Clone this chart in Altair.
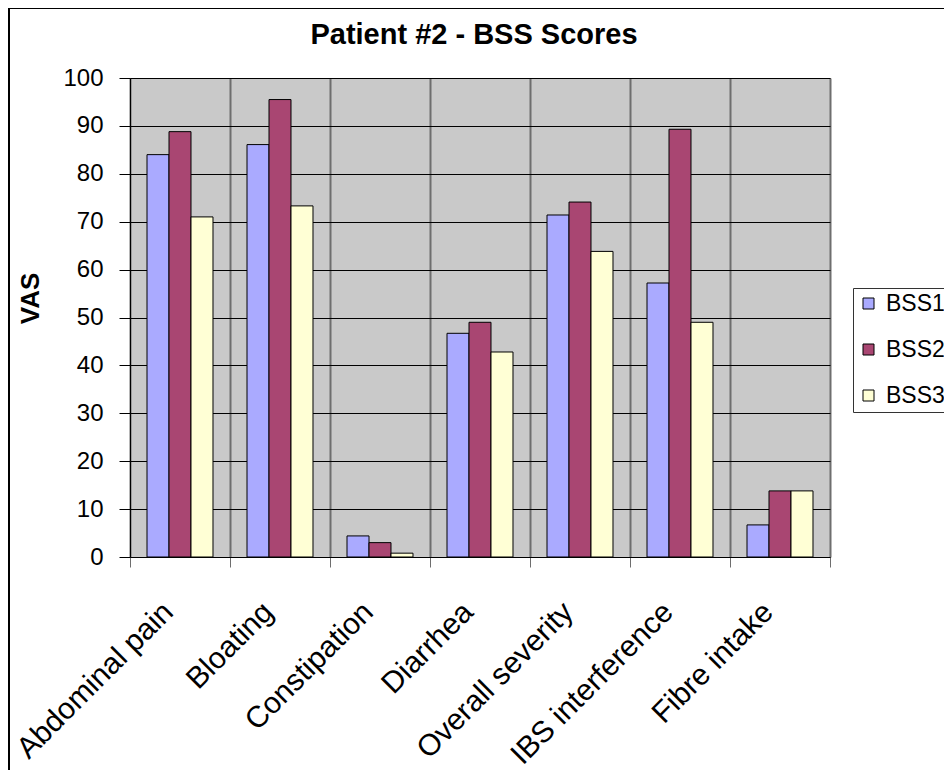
import altair as alt
import pandas as pd

categories = ["Abdominal pain", "Bloating", "Constipation", "Diarrhea",
              "Overall severity", "IBS interference", "Fibre intake"]
series = ["BSS1", "BSS2", "BSS3"]
bss1 = [84.0, 86.1, 4.4, 46.7, 71.4, 57.2, 6.7]
bss2 = [88.8, 95.5, 3.0, 49.0, 74.1, 89.3, 13.8]
bss3 = [71.0, 73.3, 0.8, 42.8, 63.8, 49.0, 13.8]
colors = ["#AAAAFF", "#A94672", "#FFFFD5"]
y_ticks = list(range(0, 101, 10))

rows = []
for s, vals in zip(series, [bss1, bss2, bss3]):
    for c, v in zip(categories, vals):
        rows.append({"category": c, "series": s, "value": v})
df = pd.DataFrame(rows)

FONT = "Liberation Sans"

bars = alt.Chart(df).mark_bar(stroke="black", strokeWidth=1).encode(
    x=alt.X("category:N", sort=categories,
            scale=alt.Scale(paddingInner=0, paddingOuter=0),
            axis=alt.Axis(title=None, tickBand="extent", grid=True,
                          gridColor="#6e6e6e", gridWidth=2,
                          tickSize=10, tickColor="#6e6e6e",
                          domainColor="black", domainWidth=1,
                          labelAngle=-45, labelAlign="right", labelBaseline="middle",
                          labelFontSize=30, labelFont=FONT, labelColor="black",
                          labelPadding=40, labelOffset=-12, labelOverlap=False,
                          labelLimit=400)),
    xOffset=alt.XOffset("series:N", sort=series,
                        scale=alt.Scale(paddingInner=0, paddingOuter=0.773)),
    y=alt.Y("value:Q", scale=alt.Scale(domain=[0, 100], nice=False),
            axis=alt.Axis(values=y_ticks, title="VAS", grid=True,
                          gridColor="black", gridWidth=1,
                          tickSize=11, tickColor="black",
                          domainColor="black", domainWidth=1,
                          labelFontSize=24, labelFont=FONT, labelColor="black",
                          labelPadding=16,
                          titleFontSize=26, titleFont=FONT, titleFontWeight="bold",
                          titleColor="black", titleAngle=270,
                          titleX=-100, titleY=220, titleAlign="center",
                          titleBaseline="middle")),
    color=alt.Color("series:N", sort=series,
                    scale=alt.Scale(domain=series, range=colors),
                    legend=alt.Legend(title=None, orient="none", legendX=723, legendY=210,
                                      direction="vertical", strokeColor="#333333",
                                      fillColor="white", padding=4,
                                      symbolType="square", symbolSize=121,
                                      symbolStrokeColor="black", symbolStrokeWidth=1,
                                      labelFontSize=23, labelFont=FONT, labelColor="black",
                                      labelOffset=6, rowPadding=22)),
)

one = pd.DataFrame({"k": [0]})
frame_top = alt.Chart(one).mark_rule(stroke="black", strokeWidth=2).encode(
    x=alt.value(-121), x2=alt.value(900), y=alt.value(-70)
)
frame_left = alt.Chart(one).mark_rule(stroke="black", strokeWidth=2).encode(
    x=alt.value(-121), y=alt.value(-70), y2=alt.value(800)
)

chart = alt.layer(frame_top, frame_left, bars).properties(
    width=700, height=479,
    title=alt.TitleParams("Patient #2 - BSS Scores", fontSize=29, fontWeight="bold",
                          font=FONT, color="black", anchor="middle", offset=27, dy=70,
                          dx=-6),
    autosize=alt.AutoSizeParams(type="none"),
    padding={"left": 122, "top": 70, "right": 114, "bottom": 213},
).configure_view(fill="#C9C9C9", stroke="#7f7f7f")

chart.save("out.html", embed_options={"renderer": "svg", "actions": False})
